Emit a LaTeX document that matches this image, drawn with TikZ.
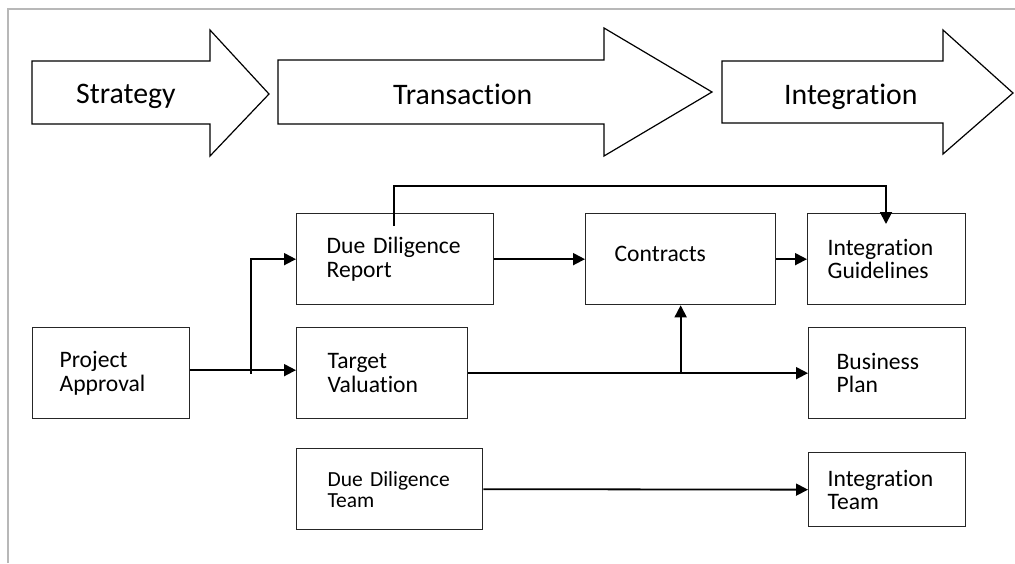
\documentclass[tikz,border=0pt]{standalone}
\usepackage{fontspec}
\setmainfont{Carlito}[Ligatures=NoCommon]
\usetikzlibrary{arrows.meta,calc}
\begin{document}
\begin{tikzpicture}[x=1pt,y=-1pt,
  frame/.style={draw=black!28, line width=1.5pt},
  phase/.style={draw=black, line width=1.2pt, line join=miter},
  phasetxt/.style={font=\fontsize{29.8}{30}\selectfont, anchor=base west, inner sep=0pt},
  box/.style={draw=black!85, line width=1.3pt, anchor=north west, inner xsep=0pt, inner ysep=0pt, align=left, font=\fontsize{23.6}{23.3}\selectfont},
  smallbox/.style={box, font=\fontsize{21.5}{21}\selectfont},
  conn/.style={draw=black, line width=1.8pt, -{Triangle[length=12pt,width=12pt]}},
  plain/.style={draw=black, line width=1.8pt}]
\useasboundingbox (0,0) rectangle (1015,563);
% frame
\draw[frame] (8,563) -- (8,9) -- (1015,9);
% phase arrows
\draw[phase] (32,61) -- (210,61) -- (210,30) -- (269,94) -- (210,156) -- (210,124) -- (32,124) -- cycle;
\draw[phase] (278,60) -- (604,60) -- (604,28) -- (712,92) -- (604,156) -- (604,124) -- (278,124) -- cycle;
\draw[phase] (722,61) -- (943,61) -- (943,30) -- (1013,93) -- (943,154) -- (943,123) -- (722,123) -- cycle;
\node[phasetxt] (strategy) at (76,103) {Strategy};
\node[phasetxt] (transaction) at (393,104) {Transaction};
\node[phasetxt] (integration) at (784,104) {Integration};
% boxes
\node[box, minimum width=157pt, minimum height=91pt, text width=103pt] (pa) at (32,327) {Project\\Approval};
\node[box, minimum width=197pt, minimum height=91pt, text width=137pt] (ddr) at (296,213) {Due Diligence\\Report};
\node[box, minimum width=171pt, minimum height=91pt, text width=109pt] (tv) at (296,327) {Target\\Valuation};
\node[smallbox, minimum width=186pt, minimum height=81pt, text width=124pt] (ddt) at (296,448) {Due Diligence\\Team};
\node[box, minimum width=190pt, minimum height=91pt, text width=132pt, text depth=10pt] (con) at (585,213) {Contracts};
\node[box, minimum width=158pt, minimum height=91pt, text width=118pt] (ig) at (807,213) {Integration\\Guidelines};
\node[box, minimum width=157pt, minimum height=91pt, text width=101pt] (bp) at (808,327) {Business\\Plan};
\node[box, minimum width=157pt, minimum height=74pt, text width=119pt] (it) at (808,452) {Integration\\Team};
% connectors
\coordinate (s1) at ($(ddr.north west)+(98,13)$);
\coordinate (e1) at ($(ig.north west)+(79,11)$);
\draw[conn] (s1) -- ($(s1|-0,186)$) -| (e1);
\draw[conn] (ddr.east) -- (con.west);
\draw[conn] (con.east) -- (ig.west);
\draw[conn] ([yshift=3pt]pa.east) -- ([yshift=3pt]tv.west);
\coordinate (br) at ($(pa.east)+(61,0.5)$);
\draw[conn] (br) |- (ddr.west);
\draw[conn] (tv.east) -- (bp.west);
\draw[conn] (tv.east -| con.south) -- (con.south);
\draw[conn] (ddt.east) -- (it.west);
\end{tikzpicture}
\end{document}
